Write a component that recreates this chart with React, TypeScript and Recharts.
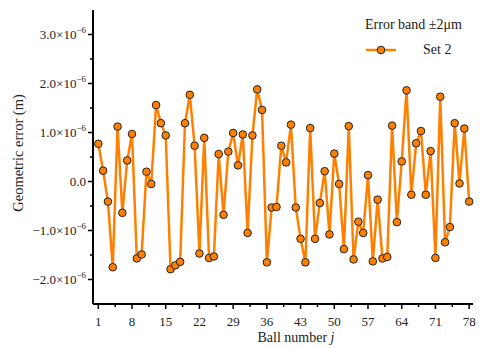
import { LineChart, Line, XAxis, YAxis, Legend } from "recharts"

// geometric error per ball, in units of 1e-6 m
const errorValues = [
  0.77, 0.22, -0.41, -1.75, 1.12, -0.64, 0.43, 0.97, -1.57, -1.49,
  0.2, -0.05, 1.56, 1.19, 0.94, -1.79, -1.71, -1.64, 1.19, 1.77,
  0.73, -1.47, 0.89, -1.56, -1.53, 0.56, -0.68, 0.61, 0.99, 0.33,
  0.96, -1.05, 0.94, 1.88, 1.46, -1.65, -0.53, -0.52, 0.73, 0.39,
  1.16, -0.53, -1.17, -1.65, 1.09, -1.17, -0.44, 0.21, -1.08, 0.57,
  -0.05, -1.38, 1.13, -1.59, -0.82, -1.05, 0.13, -1.63, -0.37, -1.57,
  -1.54, 1.14, -0.83, 0.41, 1.86, -0.27, 0.78, 1.03, -0.27, 0.62,
  -1.56, 1.73, -1.24, -0.93, 1.19, -0.04, 1.08, -0.41,
]

const xMajorTicks = [1, 8, 15, 22, 29, 36, 43, 50, 57, 64, 71, 78]
const xMinorTicks = [4.5, 11.5, 18.5, 25.5, 32.5, 39.5, 46.5, 53.5, 60.5, 67.5, 74.5]
const yMajorTicks = [-2, -1, 0, 1, 2, 3]
const yMinorTicks = [-1.5, -0.5, 0.5, 1.5, 2.5]

const data = errorValues.map((e, i) => ({ j: i + 1, e }))

const FONT = "'Liberation Serif', 'Times New Roman', serif"
const ORANGE = "#FF8000"

const XTick = (props: any) => {
  const { x, y, payload } = props
  const major = xMajorTicks.includes(payload.value)
  return (
    <g>
      <line x1={x} x2={x} y1={y} y2={y + (major ? 5 : 3)} stroke="#000" strokeWidth={1.5} />
      {major && (
        <text x={x} y={y + 22} textAnchor="middle" fontSize={13} fontFamily={FONT} fill="#222">
          {payload.value}
        </text>
      )}
    </g>
  )
}

const YTick = (props: any) => {
  const { x, y, payload } = props
  const v = payload.value
  const major = yMajorTicks.includes(v)
  const mant = v === 0 ? "0.0" : (v < 0 ? "\u2212" : "") + Math.abs(v).toFixed(1)
  return (
    <g>
      <line x1={x - (major ? 5 : 3)} x2={x} y1={y} y2={y} stroke="#000" strokeWidth={1.5} />
      {major && (
        <text x={x - 7} y={y + 4} textAnchor="end" fontSize={13} fontFamily={FONT} fill="#222">
          {mant}
          {v !== 0 && (
            <>
              {"\u00d710"}
              <tspan dy={-6} fontSize={9}>
                {"\u22126"}
              </tspan>
            </>
          )}
        </text>
      )}
    </g>
  )
}

const LegendBox = () => (
  <div style={{ fontFamily: FONT, fontSize: 14, color: "#222", lineHeight: "16px" }}>
    <div style={{ marginLeft: 10 }}>Error band ±2μm</div>
    <div style={{ display: "flex", alignItems: "center", marginTop: 9 }}>
      <svg width={30} height={10} style={{ marginLeft: 11 }}>
        <line x1={0} x2={30} y1={5} y2={5} stroke={ORANGE} strokeWidth={2.5} />
        <circle cx={15} cy={5} r={3.8} fill={ORANGE} stroke="#222" strokeWidth={1} />
      </svg>
      <span style={{ marginLeft: 27 }}>Set 2</span>
    </div>
  </div>
)

export default function App() {
  return (
    <div style={{ position: "fixed", left: 0, top: 0, background: "#fff", fontFamily: FONT }}>
      <LineChart width={480} height={348} data={data} margin={{ top: 10, right: 7, bottom: 0, left: 0 }}>
        <XAxis
          dataKey="j"
          type="number"
          domain={[-0.1, 78.8]}
          ticks={[...xMajorTicks, ...xMinorTicks]}
          interval={0}
          height={44}
          tickSize={0}
          tickMargin={0}
          tickLine={false}
          axisLine={{ stroke: "#000", strokeWidth: 2 }}
          tick={<XTick />}
          label={{
            content: () => (
              <text x={296} y={342} textAnchor="middle" fontSize={14} fontFamily={FONT} fill="#222">
                Ball number <tspan fontStyle="italic">j</tspan>
              </text>
            ),
          }}
        />
        <YAxis
          type="number"
          domain={[-2.5, 3.5]}
          ticks={[...yMajorTicks, ...yMinorTicks]}
          interval={0}
          width={93}
          tickSize={0}
          tickMargin={0}
          tickLine={false}
          axisLine={{ stroke: "#000", strokeWidth: 2 }}
          tick={<YTick />}
          label={{
            content: () => (
              <text
                x={20}
                y={153}
                transform="rotate(-90 20 153)"
                textAnchor="middle"
                dominantBaseline="middle"
                fontSize={14.5}
                fontFamily={FONT}
                fill="#222"
              >
                Geometric error (m)
              </text>
            ),
          }}
        />
        <Legend
          layout="horizontal"
          verticalAlign="middle"
          align="center"
          content={<LegendBox />}
          wrapperStyle={{ top: 17, left: 355, width: 125 }}
        />
        <Line
          dataKey="e"
          stroke={ORANGE}
          strokeWidth={2.5}
          dot={{ r: 3.8, fill: ORANGE, stroke: "#222", strokeWidth: 1 }}
          isAnimationActive={false}
        />
      </LineChart>
    </div>
  )
}
